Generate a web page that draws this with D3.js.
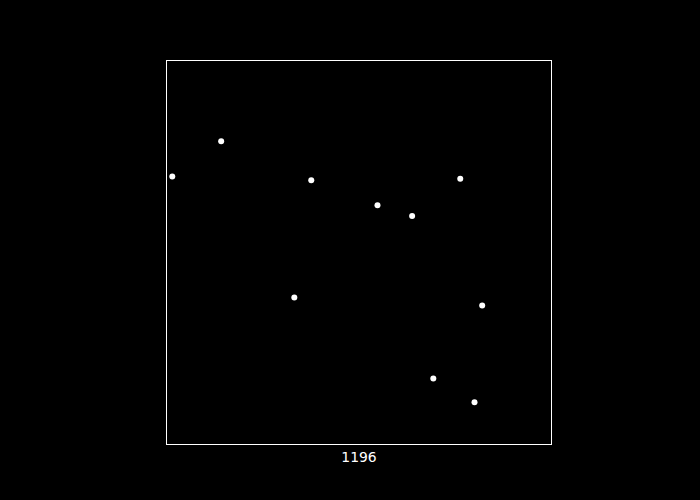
<!DOCTYPE html>
<html>
<head>
<meta charset="utf-8">
<script src="https://cdn.jsdelivr.net/npm/d3@7"></script>
<style>
  html, body { margin: 0; padding: 0; background: #000; }
  svg { display: block; }
</style>
</head>
<body>
<svg id="chart" width="700" height="500"></svg>
<script>
const xValues = [0.015, 0.142, 0.376, 0.548, 0.638, 0.763, 0.332, 0.820, 0.693, 0.800];
const yValues = [0.698, 0.790, 0.688, 0.623, 0.595, 0.692, 0.383, 0.362, 0.172, 0.110];
const title = "1196";

(function () {
  const svg = d3.select("#chart");
  svg.append("rect").attr("width", 700).attr("height", 500).attr("fill", "#000");

  const pLeft = 166.5, pRight = 551.5, pTop = 60.5, pBottom = 444.5;
  const x = d3.scaleLinear().domain([0, 1]).range([pLeft, pRight]);
  const y = d3.scaleLinear().domain([0, 1]).range([pBottom, pTop]);

  svg.append("rect")
    .attr("x", pLeft).attr("y", pTop)
    .attr("width", pRight - pLeft).attr("height", pBottom - pTop)
    .attr("fill", "none").attr("stroke", "#fff").attr("stroke-width", 1);

  const pts = xValues.map((v, i) => ({ x: v, y: yValues[i] }));
  svg.append("g").selectAll("circle").data(pts).join("circle")
    .attr("cx", d => x(d.x)).attr("cy", d => y(d.y))
    .attr("r", 3).attr("fill", "#fff");

  svg.append("text")
    .attr("x", (pLeft + pRight) / 2).attr("y", 461.5)
    .attr("text-anchor", "middle")
    .attr("font-family", "DejaVu Sans")
    .attr("font-size", 13.9)
    .attr("fill", "#fff")
    .text(title);
})();
</script>
</body>
</html>
